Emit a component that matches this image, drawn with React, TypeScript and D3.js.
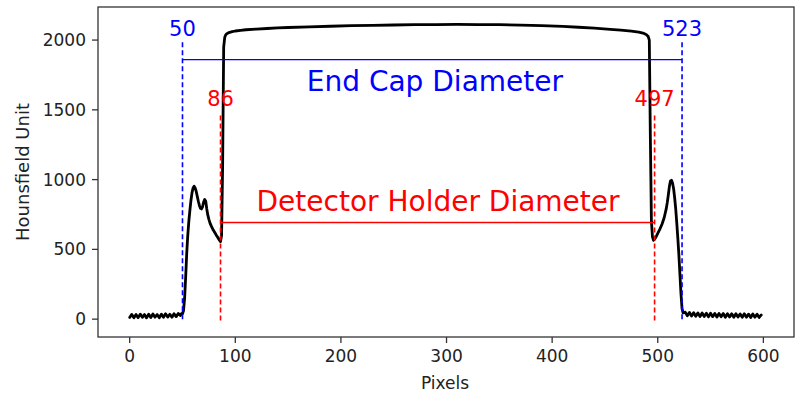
import React from "react";
import * as d3 from "d3";

// Hounsfield-unit line profile across the scan, [pixel, HU]
const leftBackground: [number, number][] = [
  [0, 12], [2, 34], [4, 10], [6, 33], [8, 11], [10, 36], [12, 13], [14, 33], [16, 9],
  [18, 35], [20, 12], [22, 37], [24, 14], [26, 33], [28, 10], [30, 36], [32, 13], [34, 38],
  [36, 15], [38, 35], [40, 14], [42, 39], [44, 18], [46, 41], [48, 26],
];

const leftRim: [number, number][] = [
  [49, 40], [50, 38], [51, 62], [52, 150], [53, 300], [54, 470], [55, 600], [56, 700],
  [57, 780], [58, 850], [59, 905], [60, 940], [61, 952], [62, 940], [63, 915], [64, 880],
  [65, 845], [66, 815], [67, 795], [68, 790], [69, 805], [70, 840], [71, 858], [72, 845],
  [73, 790], [74, 745], [75, 715], [76, 690], [77, 672], [78, 655], [79, 640], [80, 628],
  [81, 615], [82, 602], [83, 590], [84, 578], [85, 566], [86, 556], [87, 600], [88, 1100],
  [89, 1950], [90, 2020],
];

const plateau: [number, number][] = [
  [91, 2038], [92, 2046], [94, 2054], [97, 2060], [100, 2065], [105, 2070], [110, 2074],
  [120, 2079], [130, 2083], [140, 2087], [150, 2090], [170, 2095], [190, 2099], [210, 2103],
  [230, 2106], [250, 2108], [270, 2110], [290, 2111], [310, 2112], [330, 2111], [350, 2110],
  [370, 2107], [390, 2103], [410, 2098], [425, 2092], [440, 2085], [455, 2077], [465, 2071],
  [475, 2064], [482, 2057], [486, 2050], [489, 2040], [491, 2025], [492, 2000],
];

const rightRim: [number, number][] = [
  [493, 1300], [494, 700], [495, 590], [496, 565], [497, 572], [498, 585], [500, 615],
  [502, 645], [504, 680], [506, 725], [508, 790], [509, 835], [510, 890], [511, 950],
  [512, 990], [513, 995], [514, 975], [515, 935], [516, 870], [517, 790], [518, 690],
  [519, 580], [520, 460], [521, 320], [522, 180], [523, 75], [524, 45],
];

const rightBackground: [number, number][] = [
  [526, 50], [528, 24], [530, 48], [532, 22], [534, 46], [536, 20], [538, 45], [540, 18],
  [542, 44], [544, 19], [546, 42], [548, 16], [550, 42], [552, 18], [554, 41], [556, 15],
  [558, 40], [560, 17], [562, 40], [564, 14], [566, 39], [568, 16], [570, 38], [572, 13],
  [574, 39], [576, 15], [578, 37], [580, 13], [582, 38], [584, 14], [586, 36], [588, 12],
  [590, 37], [592, 14], [594, 35], [596, 12], [598, 30],
];

const profile = [...leftBackground, ...leftRim, ...plateau, ...rightRim, ...rightBackground];

const xTicks = [0, 100, 200, 300, 400, 500, 600];
const yTicks = [0, 500, 1000, 1500, 2000];

// Measured diameters
const endCap = { from: 50, to: 523, level: 1860, labelLevel: 2030 };
const holder = { from: 86, to: 497, level: 693, labelLevel: 1525 };

const W = 795;
const H = 397;
const FONT = "DejaVu Sans, sans-serif";

export default function App() {
  const x = d3.scaleLinear().domain([-30, 629]).range([98, 794]);
  const y = d3.scaleLinear().domain([-128, 2237]).range([337, 7]);

  const line = d3
    .line<[number, number]>()
    .x((d) => x(d[0]))
    .y((d) => y(d[1]));

  const [x0, x1] = x.range();
  const [y0, y1] = y.range();
  const axisColor = "#333";

  return (
    <svg
      width={W}
      height={H}
      style={{ position: "absolute", left: 0, top: 0, background: "#fff" }}
      fontFamily={FONT}
    >
      {/* profile curve */}
      <path
        d={line(profile) ?? ""}
        fill="none"
        stroke="#000"
        strokeWidth={2.8}
        strokeLinejoin="round"
        strokeLinecap="round"
      />

      {/* end cap diameter markers */}
      {[endCap.from, endCap.to].map((p) => (
        <line
          key={`b${p}`}
          x1={x(p)}
          x2={x(p)}
          y1={y(0)}
          y2={y(2000)}
          stroke="blue"
          strokeWidth={1.6}
          strokeDasharray="5,3"
        />
      ))}
      <line
        x1={x(endCap.from)}
        x2={x(endCap.to)}
        y1={y(endCap.level)}
        y2={y(endCap.level)}
        stroke="blue"
        strokeWidth={1.4}
      />
      {[endCap.from, endCap.to].map((p) => (
        <text
          key={`bt${p}`}
          x={x(p)}
          y={y(endCap.labelLevel)}
          textAnchor="middle"
          fontSize={21}
          fill="blue"
        >
          {p}
        </text>
      ))}
      <text
        x={x(289)}
        y={y(1635)}
        textAnchor="middle"
        fontSize={28}
        fill="blue"
      >
        End Cap Diameter
      </text>

      {/* detector holder diameter markers */}
      {[holder.from, holder.to].map((p) => (
        <line
          key={`r${p}`}
          x1={x(p)}
          x2={x(p)}
          y1={y(-10)}
          y2={y(1480)}
          stroke="red"
          strokeWidth={1.6}
          strokeDasharray="5,3"
        />
      ))}
      <line
        x1={x(holder.from)}
        x2={x(holder.to)}
        y1={y(holder.level)}
        y2={y(holder.level)}
        stroke="red"
        strokeWidth={1.4}
      />
      {[holder.from, holder.to].map((p) => (
        <text
          key={`rt${p}`}
          x={x(p)}
          y={y(holder.labelLevel)}
          textAnchor="middle"
          fontSize={21}
          fill="red"
        >
          {p}
        </text>
      ))}
      <text
        x={x(292)}
        y={y(775)}
        textAnchor="middle"
        fontSize={28}
        fill="red"
      >
        Detector Holder Diameter
      </text>

      {/* frame */}
      <rect
        x={x0}
        y={y1}
        width={x1 - x0}
        height={y0 - y1}
        fill="none"
        stroke={axisColor}
        strokeWidth={1.3}
      />

      {/* x axis */}
      {xTicks.map((t) => (
        <g key={`xt${t}`} transform={`translate(${x(t)},${y0})`}>
          <line y1={0} y2={6} stroke={axisColor} strokeWidth={1.3} />
          <text y={25} textAnchor="middle" fontSize={17} fill="#222">
            {t}
          </text>
        </g>
      ))}
      <text x={(x0 + x1) / 2 - 1} y={389} textAnchor="middle" fontSize={17} fill="#222">
        Pixels
      </text>

      {/* y axis */}
      {yTicks.map((t) => (
        <g key={`yt${t}`} transform={`translate(${x0},${y(t)})`}>
          <line x1={0} x2={-6} stroke={axisColor} strokeWidth={1.3} />
          <text x={-12} dy="0.36em" textAnchor="end" fontSize={17} fill="#222">
            {t}
          </text>
        </g>
      ))}
      <text
        transform={`translate(29,${(y0 + y1) / 2}) rotate(-90)`}
        textAnchor="middle"
        fontSize={18}
        fill="#222"
      >
        Hounsfield Unit
      </text>
    </svg>
  );
}
